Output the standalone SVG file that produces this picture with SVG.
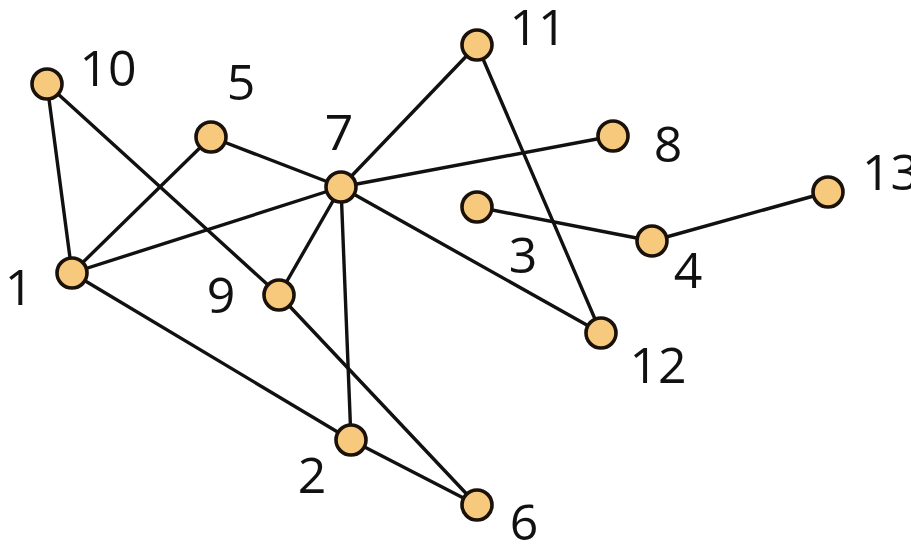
<svg xmlns="http://www.w3.org/2000/svg" width="911" height="544" viewBox="0 0 911 544">
<style>
.e{stroke:#111;stroke-width:3.4;fill:none;stroke-linecap:round}
.n{fill:#F6C97C;stroke:#1a120a;stroke-width:3.6}
.t{font-family:"Open Sans","Liberation Sans",sans-serif;font-size:50px;fill:#111;text-anchor:middle}
</style>
<rect width="911" height="544" fill="#fff"/>
<g id="edges">
<line class="e" x1="47" y1="84" x2="72" y2="273"/>
<line class="e" x1="47" y1="84" x2="279" y2="295"/>
<line class="e" x1="211" y1="137" x2="72" y2="273"/>
<line class="e" x1="211" y1="137" x2="341" y2="187"/>
<line class="e" x1="341" y1="187" x2="72" y2="273"/>
<line class="e" x1="341" y1="187" x2="477" y2="45"/>
<line class="e" x1="341" y1="187" x2="613" y2="136"/>
<line class="e" x1="341" y1="187" x2="279" y2="295"/>
<line class="e" x1="341" y1="187" x2="351" y2="440"/>
<line class="e" x1="341" y1="187" x2="601" y2="333"/>
<line class="e" x1="477" y1="45" x2="601" y2="333"/>
<line class="e" x1="477" y1="207" x2="652" y2="241"/>
<line class="e" x1="652" y1="241" x2="828" y2="192"/>
<line class="e" x1="72" y1="273" x2="351" y2="440"/>
<line class="e" x1="279" y1="295" x2="477" y2="505"/>
<line class="e" x1="351" y1="440" x2="477" y2="505"/>
</g>
<g id="n10"><circle class="n" cx="47" cy="84" r="15"/><text class="t" x="108" y="86">10</text></g>
<g id="n5"><circle class="n" cx="211" cy="137" r="15"/><text class="t" x="241" y="100">5</text></g>
<g id="n7"><circle class="n" cx="341" cy="187" r="15"/><text class="t" x="339" y="150">7</text></g>
<g id="n11"><circle class="n" cx="477" cy="45" r="15"/><text class="t" x="538" y="45">11</text></g>
<g id="n8"><circle class="n" cx="613" cy="136" r="15"/><text class="t" x="668" y="162">8</text></g>
<g id="n13"><circle class="n" cx="828" cy="192" r="15"/><text class="t" x="862" y="190" style="text-anchor:start">13</text></g>
<g id="n3"><circle class="n" cx="477" cy="207" r="15"/><text class="t" x="523" y="273">3</text></g>
<g id="n4"><circle class="n" cx="652" cy="241" r="15"/><text class="t" x="688" y="288">4</text></g>
<g id="n1"><circle class="n" cx="72" cy="273" r="15"/><text class="t" x="19" y="305">1</text></g>
<g id="n9"><circle class="n" cx="279" cy="295" r="15"/><text class="t" x="221" y="313">9</text></g>
<g id="n12"><circle class="n" cx="601" cy="333" r="15"/><text class="t" x="658" y="383">12</text></g>
<g id="n2"><circle class="n" cx="351" cy="440" r="15"/><text class="t" x="312" y="493">2</text></g>
<g id="n6"><circle class="n" cx="477" cy="505" r="15"/><text class="t" x="524" y="540">6</text></g>
</svg>
